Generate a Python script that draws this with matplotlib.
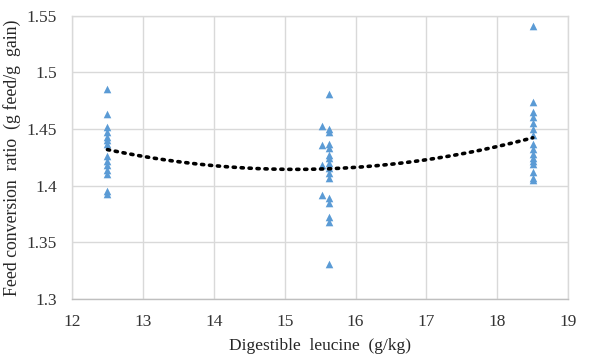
import numpy as np
import matplotlib
matplotlib.use("Agg")
import matplotlib.pyplot as plt
from matplotlib.ticker import FuncFormatter

# Data
x_low = [12.5] * 14
y_low = [1.485, 1.463, 1.452, 1.447, 1.443, 1.440, 1.437, 1.426, 1.422, 1.418,
         1.414, 1.410, 1.395, 1.393]
x_mid_a = [15.53] * 4
y_mid_a = [1.453, 1.436, 1.418, 1.392]
x_mid_b = [15.62] * 16
y_mid_b = [1.481, 1.450, 1.447, 1.437, 1.433, 1.427, 1.424, 1.420, 1.416, 1.411,
           1.407, 1.389, 1.385, 1.372, 1.368, 1.331]
x_high = [18.5] * 16
y_high = [1.541, 1.474, 1.465, 1.461, 1.455, 1.450, 1.445, 1.437, 1.432, 1.428,
          1.424, 1.422, 1.419, 1.412, 1.407, 1.405]

x_ticks = [12, 13, 14, 15, 16, 17, 18, 19]
y_ticks = [1.3, 1.35, 1.4, 1.45, 1.5, 1.55]

xs = np.array(x_low + x_mid_a + x_mid_b + x_high)
ys = np.array(y_low + y_mid_a + y_mid_b + y_high)

plt.rcParams['font.family'] = ['Liberation Serif', 'DejaVu Serif']

fig = plt.figure(figsize=(6, 3.6), dpi=100)
ax = fig.add_axes([0.12, 0.170, 0.827, 0.786])

ax.scatter(xs, ys, marker='^', s=30, color='#5B9BD5', zorder=3, linewidths=0)

# Second-order polynomial trendline (as in Excel)
coef = np.polyfit(xs, ys, 2)
xf = np.linspace(xs.min(), xs.max(), 200)
ax.plot(xf, np.polyval(coef, xf), color='black', linestyle=(0, (0.6, 1.6)),
        linewidth=2.6, dash_capstyle='round', zorder=4)

ax.set_xlim(12, 19)
ax.set_ylim(1.3, 1.55)
ax.set_xticks(x_ticks)
ax.set_yticks(y_ticks)
ax.yaxis.set_major_formatter(FuncFormatter(lambda v, p: ('%.2f' % v).rstrip('0')))
ax.grid(True, color='#d9d9d9', linewidth=1)
ax.set_axisbelow(True)
for s in ax.spines.values():
    s.set_color('#d9d9d9')
    s.set_linewidth(1)
ax.spines['bottom'].set_color('#bfbfbf')
ax.tick_params(axis='y', length=0, labelsize=12.5, colors='#333333', pad=11)
ax.tick_params(axis='x', length=0, labelsize=12.5, colors='#333333', pad=11)
ax.set_xlabel('Digestible  leucine  (g/kg)', fontsize=12.5, color='#262626', labelpad=6)
ax.set_ylabel('Feed conversion  ratio  (g feed/g  gain)', fontsize=12.8, color='#262626', labelpad=4)

fig.savefig('out.png', dpi=100)
